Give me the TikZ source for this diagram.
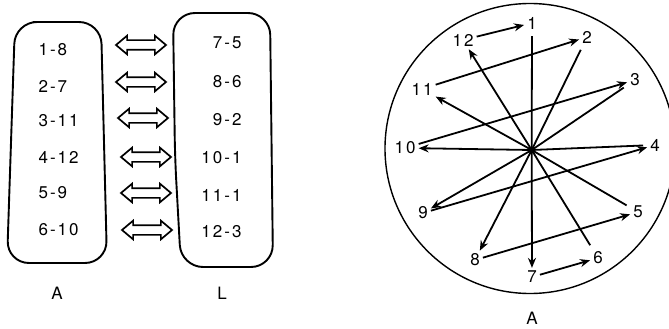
\documentclass[tikz,border=0pt]{standalone}
\usepackage{fontspec}
\setmainfont{TeX Gyre Heros}[LetterSpace=12]
\usepackage{tikz}
\usetikzlibrary{positioning, arrows.meta, shapes.arrows}

\begin{document}
\begin{tikzpicture}[x=1pt, y=-1pt,
    font=\fontsize{17}{19}\selectfont,
    num/.style={inner sep=3pt},
    dbl/.style={double arrow, draw, line width=1.7pt, inner xsep=0pt, inner ysep=4pt,
        minimum height=50pt, double arrow head extend=4.5pt,
        double arrow tip angle=80},
    blob/.style={line width=1.9pt, rounded corners=22pt},
    spoke/.style={line width=1.8pt, shorten >=4pt},
    arr/.style={-{Stealth[length=10pt, width=8pt]}, line width=1.8pt}
]
\useasboundingbox (0,0) rectangle (669,329);

% left figure: the two groups
\draw[blob] (55,22) -- (101,22) -- (107,263) -- (7,263) -- (15,22) -- cycle;
\draw[blob] (220,13) -- (270,13) -- (273,267) -- (181,267) -- (175,158) -- (173,13) -- cycle;

\node[anchor=west] (a1) at (35,50)  {1-8};
\node[anchor=west] (a2) at (35,86)  {2-7};
\node[anchor=west] (a3) at (35,121) {3-11};
\node[anchor=west] (a4) at (35,157) {4-12};
\node[anchor=west] (a5) at (35,193) {5-9};
\node[anchor=west] (a6) at (35,230) {6-10};

\node[anchor=east] (l1) at (245,43)  {7-5};
\node[anchor=east] (l2) at (245,82)  {8-6};
\node[anchor=east] (l3) at (245,120) {9-2};
\node[anchor=east] (l4) at (245,158) {10-1};
\node[anchor=east] (l5) at (245,195) {11-1};
\node[anchor=east] (l6) at (245,232) {12-3};

\node[dbl] (d1) at (141,45)  {};
\node[dbl] (d2) at (141,82)  {};
\node[dbl] (d3) at (143,118) {};
\node[dbl] (d4) at (146,157) {};
\node[dbl] (d5) at (146,193) {};
\node[dbl] (d6) at (147,230) {};

\node (capA) at (57,293)  {A};
\node (capL) at (222,293) {L};

% right figure: the clock
\draw[line width=1.4pt] (530,148.5) circle (145);
\coordinate (c) at (531.7,150);
\fill (c) circle (3.4);

\node[num] (n1)  at (532,23)  {1};
\node[num] (n2)  at (587,37)  {2};
\node[num] (n3)  at (635,80)  {3};
\node[num] (n4)  at (655,145) {4};
\node[num] (n5)  at (638,212) {5};
\node[num] (n6)  at (598,258) {6};
\node[num] (n7)  at (532,277) {7};
\node[num] (n8)  at (475,260) {8};
\node[num] (n9)  at (423,213) {9};
\node[num] (n10) at (405,148) {10};
\node[num] (n11) at (422,89)  {11};
\node[num] (n12) at (463,40)  {12};
\node (capC) at (532,318) {A};

\draw[spoke] (c) -- (n1); \draw[spoke] (c) -- (n2);
\draw[spoke] (c) -- (n3); \draw[spoke] (c) -- (n4);
\draw[spoke] (c) -- (n5); \draw[spoke] (c) -- (n6);
\draw[arr] (c) -- (n7);  \draw[arr] (c) -- (n8);
\draw[arr] (c) -- (n9);  \draw[arr] (c) -- (n10);
\draw[arr] (c) -- (n11); \draw[arr] (c) -- (n12);

\draw[arr] (n12) -- (n1); \draw[arr] (n11) -- (n2);
\draw[arr] (n10) -- (n3); \draw[arr] (n9) -- (n4);
\draw[arr] (n8) -- (n5);  \draw[arr] (n7) -- (n6);
\end{tikzpicture}
\end{document}
